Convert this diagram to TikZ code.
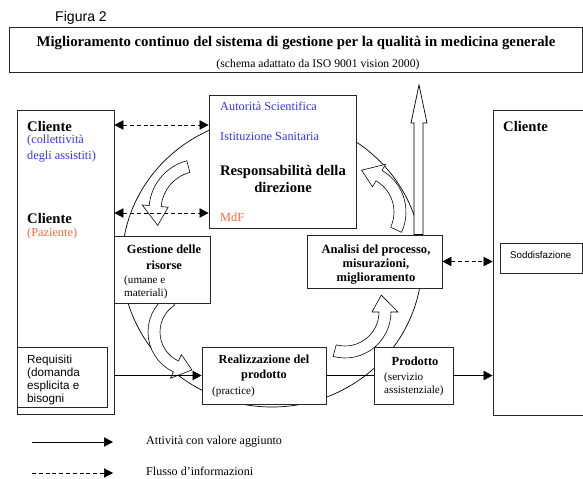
\documentclass[tikz,border=0pt]{standalone}
\usepackage{fontspec}
\setmainfont{Liberation Serif}
\setsansfont{Liberation Sans}
\usetikzlibrary{arrows.meta, positioning, fit}

\definecolor{enti}{RGB}{51,51,255}
\definecolor{mdf}{RGB}{255,102,51}

\newcommand{\fs}[2]{\fontsize{#1}{#2}\selectfont}
% curved block arrow: centre x, centre y, radius, from angle, to angle
\newcommand{\turnarrow}[5]{%
  \draw[turn] plot[domain=#4:#5, samples=16] ({#1+(#3+6)*cos(\x)}, {#2+(#3+6)*sin(\x)})
    -- ({#1+(#3+13)*cos(#5)}, {#2+(#3+13)*sin(#5)})
    -- ({#1+#3*cos(#5-25)}, {#2+#3*sin(#5-25)})
    -- ({#1+(#3-13)*cos(#5)}, {#2+(#3-13)*sin(#5)})
    -- plot[domain=#5:#4, samples=16] ({#1+(#3-6)*cos(\x)}, {#2+(#3-6)*sin(\x)})
    -- cycle;}

\tikzset{
  box/.style={draw=black!85, line width=0.7pt, fill=white, inner sep=0pt},
  txt/.style={inner sep=0pt},
  turn/.style={draw, line width=0.5pt, fill=white},
  hollow/.style={draw, line width=0.6pt, fill=white},
  line/.style={line width=0.6pt},
  flow/.style={line, ->},
  dashline/.style={line, dash pattern=on 3.4pt off 2.4pt},
  info/.style={dashline, <->},
}

\begin{document}
\begin{tikzpicture}[x=0.03cm, y=-0.03cm, node distance=1cm, >={Triangle[length=2.7mm, width=2.8mm]}]
    \clip (0,0) rectangle (583,479);

    % Cycle
    \draw[line] (272,262) ellipse[x radius=4.5cm, y radius=4.35cm];
    \turnarrow{200}{210}{45}{255}{185}
    \turnarrow{358}{212}{42}{25}{-60}
    \turnarrow{192}{332}{38}{237}{115}
    \turnarrow{345}{312}{40}{105}{0}

    % Boxes
    \node[box, fit={(9,27) (582,72)}] (titolo) {};
    \node[box, fit={(17,110) (114,414)}] (cliente) {};
    \node[box, fit={(17,347) (107,407)}] (requisiti) {};
    \node[box, fit={(209,95) (356,228)}] (direzione) {};
    \node[box, fit={(114,236) (210,303)}] (risorse) {};
    \node[box, fit={(307,235) (442,288)}] (analisi) {};
    \node[box, fit={(202,347) (326,404)}] (realizzazione) {};
    \node[box, fit={(374,347) (453,404)}] (prodotto) {};
    \node[box, fit={(493,110) (600,415)}] (soddcliente) {};
    \node[box, fit={(500,243) (582,273)}] (soddisfazione) {};
    \draw[hollow] (analisi.north -| 414,0) -- (414,123) -- (411,123) -- (419,85)
        -- (427,123) -- (423,123) -- (analisi.north -| 423,0) -- cycle;

    % Texts
    \node[txt, anchor=west, font=\sffamily\fs{12}{14}] (figura) at (55,18) {Figura 2};
    \node[txt, font=\bfseries\fs{12.6}{14}] (titolotxt) at (296,43)
        {Miglioramento continuo del sistema di gestione per la qualità in medicina generale};
    \node[txt, font=\fs{10}{12}] (schema) at (318,65) {(schema adattato da ISO 9001 vision 2000)};
    \node[txt, anchor=west, font=\bfseries\fs{12.5}{15}] (cliente1) at (27,126) {Cliente};
    \node[txt, anchor=west, align=left, text=enti, font=\fs{10.5}{13.6}] (collettivita) at (27,149)
        {(collettività\\degli assistiti)};
    \node[txt, anchor=west, font=\bfseries\fs{12.5}{15}] (cliente2) at (27,218) {Cliente};
    \node[txt, anchor=west, text=mdf, font=\fs{10.5}{13}] (paziente) at (27,234) {(Paziente)};
    \node[txt, anchor=west, align=left, font=\sffamily\fs{10}{11.3}] (requisititxt) at (27,380)
        {Requisiti\\(domanda\\esplicita e\\bisogni};
    \node[txt, anchor=west, text=enti, font=\fs{10.5}{13}] (autorita) at (220,106) {Autorità Scientifica};
    \node[txt, anchor=west, text=enti, font=\fs{10.5}{13}] (istituzione) at (220,136) {Istituzione Sanitaria};
    \node[txt, align=center, font=\bfseries\fs{12.5}{14.5}] (direzionetxt) at (283,178.5)
        {Responsabilità della\\direzione};
    \node[txt, anchor=west, text=mdf, font=\fs{10.5}{13}] (mdftxt) at (220,217) {MdF};
    \node[txt, align=center, font=\bfseries\fs{10.6}{13.6}] (risorsetxt) at (164,257)
        {Gestione delle\\risorse};
    \node[txt, anchor=west, align=left, font=\fs{9.5}{11}] (umane) at (124,287)
        {(umane e\\materiali)};
    \node[txt, align=center, font=\bfseries\fs{10.7}{12.3}] (analisitxt) at (376,264.5)
        {Analisi del processo,\\misurazioni,\\miglioramento};
    \node[txt, align=center, font=\bfseries\fs{10.5}{12.8}] (realizzazionetxt) at (264,368.5)
        {Realizzazione del\\prodotto};
    \node[txt, anchor=west, font=\fs{9.5}{11}] (practice) at (212,392) {(practice)};
    \node[txt, font=\bfseries\fs{10.6}{13}] (prodottotxt) at (415,361) {Prodotto};
    \node[txt, anchor=west, align=left, font=\fs{9.5}{11}] (servizio) at (384,384)
        {(servizio\\assistenziale)};
    \node[txt, anchor=west, font=\bfseries\fs{12.5}{15}] (cliente3) at (503,126) {Cliente};
    \node[txt, anchor=west, font=\sffamily\fs{8.3}{10}] (soddtxt) at (510,255) {Soddisfazione};

    % Arrows
    \draw[info] (cliente.east |- 0,125) -- (direzione.west |- 0,125);
    \draw[info] (cliente.east |- 0,213) -- (direzione.west |- 0,213);
    \draw[info] (analisi.east) -- (analisi.east -| soddcliente.west);
    \draw[flow] (cliente.east |- realizzazione.west) -- (realizzazione.west);
    \draw[line] (realizzazione.east) -- (prodotto.west);
    \draw[flow] (prodotto.east) -- (prodotto.east -| soddcliente.west);

    % Legend
    \coordinate (a1) at (32,442);
    \coordinate (a2) at (113,442);
    \coordinate (b1) at (32,473);
    \coordinate (b2) at (113,473);
    \draw[flow] (a1) -- (a2);
    \draw[dashline, ->] (b1) -- (b2);
    \node[txt, right=0.99cm of a2, font=\fs{10.3}{12}] (attivita) {Attività con valore aggiunto};
    \node[txt, right=0.99cm of b2, yshift=0.06cm, font=\fs{10.3}{12}] (flusso) {Flusso d’informazioni};
\end{tikzpicture}
\end{document}
